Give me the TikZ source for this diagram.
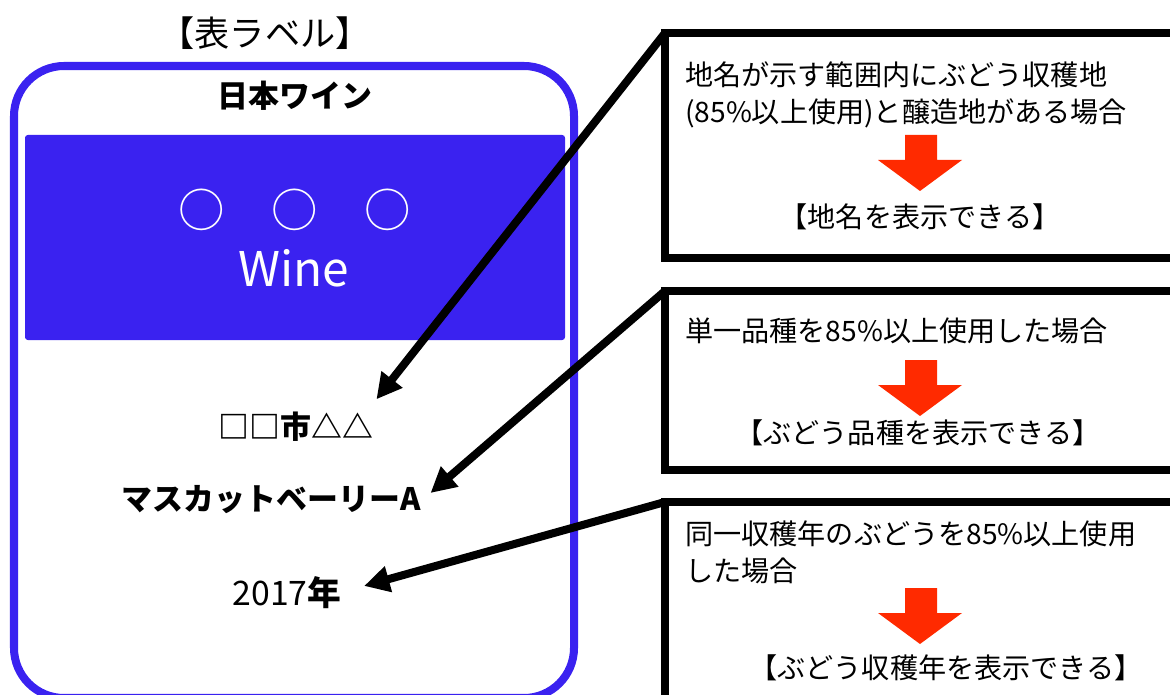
\documentclass[tikz,border=0pt]{standalone}
\usepackage{fontspec}
\setmainfont{Noto Sans CJK JP}
\usepackage{xcolor}
\usetikzlibrary{positioning, calc, arrows.meta}
\definecolor{labelblue}{RGB}{58,34,240}
\definecolor{tipred}{RGB}{255,42,0}

\begin{document}
\begin{tikzpicture}[x=0.025cm, y=-0.025cm,
    infobox/.style={draw, line width=5.7pt, outer sep=0pt, minimum width=13cm, anchor=north west},
    pointer/.style={line width=5.7pt, -{Triangle[length=18pt, width=18pt]}},
    bodytext/.style={font=\fontsize{20}{26.3}\selectfont, align=left, inner sep=0pt, anchor=west},
    labeltext/.style={font=\bfseries\fontsize{22}{26}\selectfont, inner sep=2pt}]

    % Picture frame (boxes run off the right and bottom edges)
    \useasboundingbox (0,0) rectangle (1170,695);
    \clip (0,0) rectangle (1170,695);

    % Front label outline
    \node[font=\fontsize{25}{30}\selectfont] (titleLabel) at (265,33) {【表ラベル】};
    \draw[labelblue, line width=5.7pt, rounded corners=1.25cm] (14,66) rectangle (574,698);
    \node[labeltext] (category) at (295,96) {日本ワイン};

    % Blue name band
    \fill[labelblue, rounded corners=2pt] (25,135) rectangle (565,340);
    \node[white, font=\fontsize{33}{40}\selectfont] (brand) at (295,210) {○　○　○};
    \node[white, font=\fontsize{34}{40}\selectfont] (wineName) at (294,268) {Wine};

    % Label entries
    \node[labeltext] (place) at (296,427) {□□市△△};
    \node[labeltext] (grape) at (271,500) {マスカットベーリーA};
    \node[labeltext, font=\fontsize{24}{28}\selectfont] (vintage) at (287,593) {2017\textbf{年}};

    % Explanation boxes
    \node[infobox, minimum height=5.625cm] (boxPlace) at (665,33) {};
    \node[infobox, minimum height=4.475cm] (boxGrape) at (665,291) {};
    \node[infobox, minimum height=5.6cm] (boxVintage) at (665,502) {};

    % Box texts
    \node[bodytext] (condPlace) at (685,94.5) {地名が示す範囲内にぶどう収穫地\\(85\%以上使用)と醸造地がある場合};
    \node[font=\fontsize{20}{26}\selectfont] (resPlace) at (920,217) {【地名を表示できる】};
    \node[bodytext] (condGrape) at (685,331) {単一品種を85\%以上使用した場合};
    \node[font=\fontsize{20}{26}\selectfont] (resGrape) at (918,433) {【ぶどう品種を表示できる】};
    \node[bodytext] (condVintage) at (685,552.5) {同一収穫年のぶどうを85\%以上使用\\した場合};
    \node[font=\fontsize{20}{26}\selectfont] (resVintage) at (946,668) {【ぶどう収穫年を表示できる】};

    % Red down arrows
    \foreach \yy in {135,360,588}
        \fill[tipred] (905,\yy) -- ++(32,0) -- ++(0,25) -- ++(25,0) -- ++(-42,31)
                      -- ++(-42,-31) -- ++(27,0) -- cycle;

    % Pointers from boxes to label entries
    \draw[pointer] (boxPlace.north west) -- ([yshift=7pt]place.north east);
    \draw[pointer] (boxGrape.north west) -- ([xshift=5pt, yshift=5pt]grape.east);
    \draw[pointer] (boxVintage.north west) -- ([xshift=14pt, yshift=5pt]vintage.east);

\end{tikzpicture}
\end{document}
